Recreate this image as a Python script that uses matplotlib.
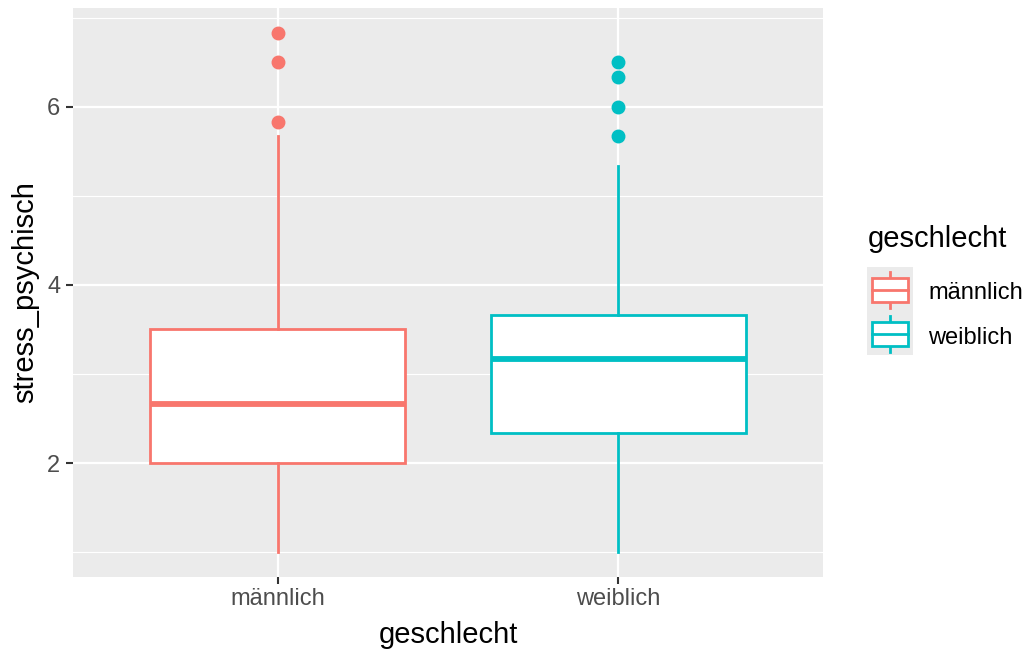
import matplotlib
matplotlib.use("Agg")
import matplotlib.pyplot as plt
from matplotlib.patches import Rectangle
from matplotlib.lines import Line2D

# Summary statistics per group
groups = ["männlich", "weiblich"]
colors = ["#F8766D", "#00BFC4"]
whisker_low = [1.0, 1.0]
q1 = [2.0, 2.333]
median = [2.667, 3.167]
q3 = [3.5, 3.667]
whisker_high = [5.667, 5.333]
outliers = [
    [5.833, 6.5, 6.833],
    [5.667, 6.0, 6.333, 6.5],
]
y_ticks = [2, 4, 6]

plt.rcParams["font.family"] = ["Liberation Sans", "DejaVu Sans"]

W, H = 1029, 651
fig = plt.figure(figsize=(W / 100, H / 100), dpi=100)
ax = fig.add_axes([73 / W, 1 - 577 / H, 750 / W, 569 / H])

panel_bg = "#EBEBEB"
ax.set_facecolor(panel_bg)
for s in ax.spines.values():
    s.set_visible(False)

ax.set_xlim(0.4, 2.6)
ax.set_ylim(0.72, 7.11)

# grid
for y in [1, 3, 5, 7]:
    ax.axhline(y, color="white", lw=0.8, zorder=0)
for y in y_ticks:
    ax.axhline(y, color="white", lw=1.6, zorder=0)
for x in [1, 2]:
    ax.axvline(x, color="white", lw=1.6, zorder=0)

stats = []
for i, g in enumerate(groups):
    stats.append(dict(label=g, whislo=whisker_low[i], q1=q1[i], med=median[i],
                      q3=q3[i], whishi=whisker_high[i], fliers=outliers[i]))

box_lw = 2.0
for i, st in enumerate(stats):
    c = colors[i]
    ax.bxp([st], positions=[i + 1], widths=0.75, patch_artist=True, showcaps=False,
           boxprops=dict(facecolor="white", edgecolor=c, linewidth=box_lw),
           whiskerprops=dict(color=c, linewidth=box_lw),
           medianprops=dict(color=c, linewidth=4.2, solid_capstyle="butt"),
           flierprops=dict(marker="o", markerfacecolor=c, markeredgecolor=c,
                           markersize=9.0, linestyle="none"),
           zorder=3)

ax.set_xticks([1, 2])
ax.set_xticklabels(groups)
ax.set_yticks(y_ticks)
ax.set_yticklabels([str(v) for v in y_ticks])
ax.tick_params(axis="both", colors="#333333", length=5, width=1.5, labelsize=17,
               labelcolor="#4D4D4D")
ax.tick_params(axis="x", pad=3)
ax.tick_params(axis="y", pad=4)

ax.set_xlabel("geschlecht", fontsize=21, color="black")
ax.set_ylabel("stress_psychisch", fontsize=21, color="black")
ax.xaxis.set_label_coords(0.5, (577 - 621) / 569)
ax.yaxis.set_label_coords((39 - 73) / 750, 0.5)

# legend
fig.text(868 / W, 1 - 247 / H, "geschlecht", fontsize=21, va="baseline", ha="left")
key_top = 267
key_h = 44
label_baselines = [299, 344]
for i, g in enumerate(groups):
    top = key_top + i * key_h
    kax = fig.add_axes([867 / W, 1 - (top + key_h) / H, 46 / W, key_h / H])
    kax.set_xlim(0, 1)
    kax.set_ylim(0, 1)
    kax.set_facecolor(panel_bg)
    kax.set_xticks([])
    kax.set_yticks([])
    for s in kax.spines.values():
        s.set_visible(False)
    c = colors[i]
    kax.add_line(Line2D([0.5, 0.5], [0.07, 0.89], color=c, lw=box_lw))
    kax.add_patch(Rectangle((0.10, 0.21), 0.80, 0.55, facecolor="white", edgecolor=c, lw=box_lw, zorder=2))
    kax.add_line(Line2D([0.10, 0.90], [0.485, 0.485], color=c, lw=box_lw, zorder=3))
    fig.text(928 / W, 1 - label_baselines[i] / H, g, fontsize=17, va="baseline", ha="left")

fig.savefig("out.png", dpi=100, facecolor="white")
